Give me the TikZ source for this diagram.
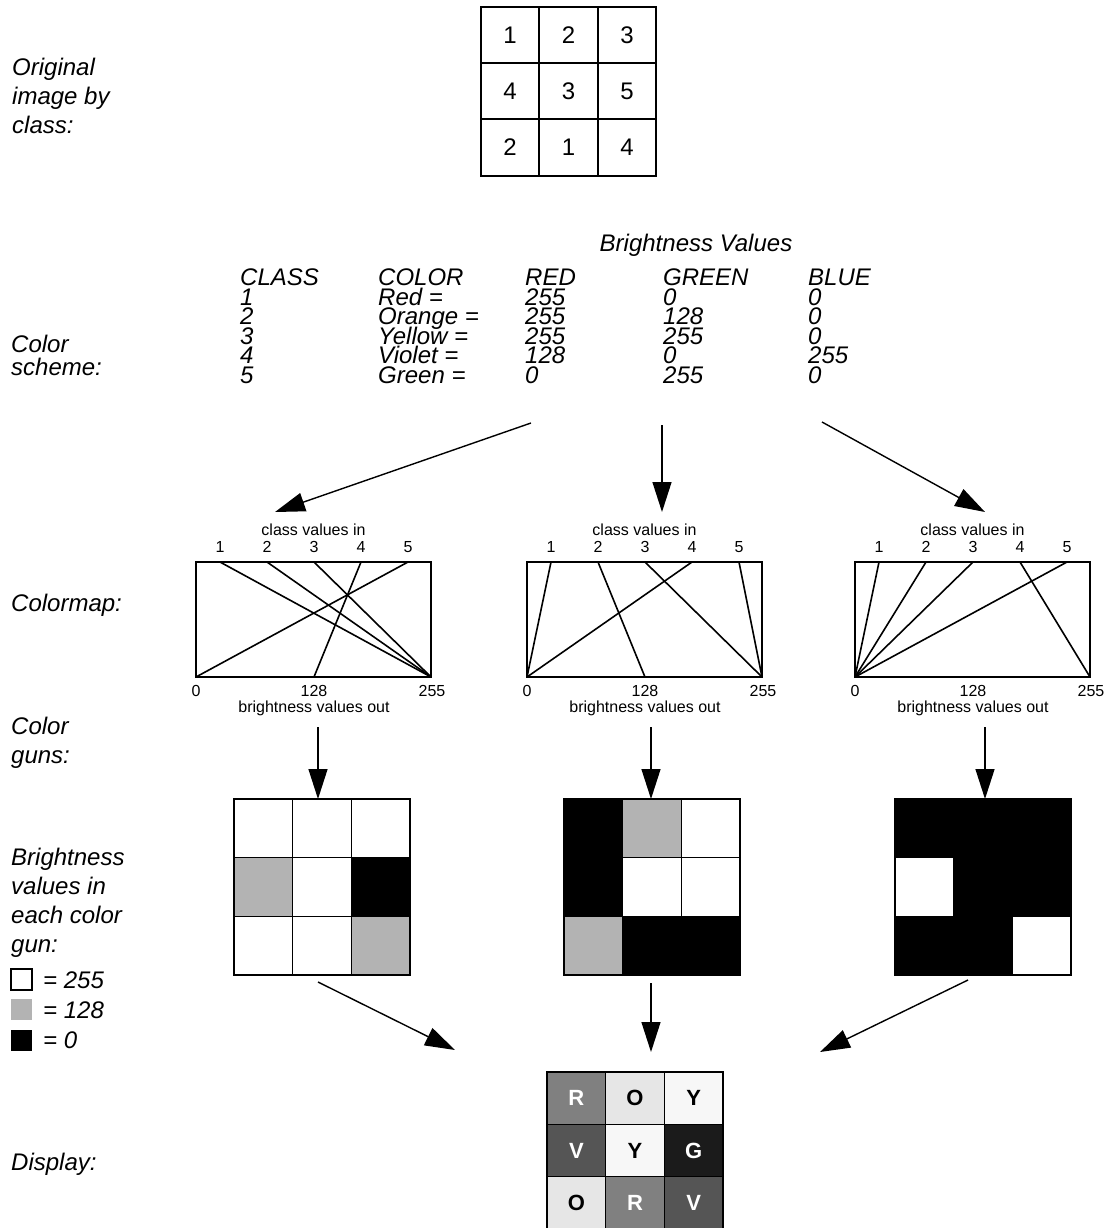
\documentclass[tikz,border=0pt]{standalone}
\usepackage{fontspec}
\setmainfont{Liberation Sans}
\usetikzlibrary{arrows.meta}
\definecolor{midgray}{HTML}{B3B3B3}
\definecolor{dR}{HTML}{808080}
\definecolor{dO}{HTML}{E6E6E6}
\definecolor{dY}{HTML}{F7F7F7}
\definecolor{dV}{HTML}{555555}
\definecolor{dG}{HTML}{1B1B1B}
\newcommand\drawcmap[3]{%
  \draw[cmbox] (#1,562) rectangle ++(235,115);
  \node[small] (#2ci) at (#1+117.5,530) {class values in};
  \foreach \k/\v in {#3} {
    \node[small] (#2k\k) at (#1+24+47*\k-47,547) {\k};
    \draw[cmline] (#1+24+47*\k-47,562) -- (#1+0.92157*\v,677);
  }
  \node[small] (#2b0) at (#1,691) {0};
  \node[small] (#2b1) at (#1+118,691) {128};
  \node[small] (#2b2) at (#1+236,691) {255};
  \node[small] (#2bo) at (#1+118,708) {brightness values out};
}
\newcommand\drawbgrid[3]{%
  \foreach \c [count=\i from 0] in {#3} {
    \pgfmathtruncatemacro\cc{mod(\i,3)}
    \pgfmathtruncatemacro\rr{\i/3}
    \node[bcell,fill=\c] (#2\i) at (#1+29.33+58.67*\cc,828.33+58.67*\rr) {};
  }
}
\begin{document}
\begin{tikzpicture}[x=1pt,y=-1pt,
  lbl/.style={anchor=base west,inner sep=0,font=\fontsize{24}{29}\selectfont\itshape},
  tbl/.style={anchor=base west,inner sep=0,font=\fontsize{24}{20}\selectfont\itshape},
  small/.style={inner sep=0,font=\fontsize{16}{18}\selectfont},
  digit/.style={inner sep=0,font=\fontsize{24}{26}\selectfont},
  cmbox/.style={line width=1.8pt},
  cmline/.style={line width=1.6pt},
  bigarrow/.style={-{Triangle[length=30pt,width=19pt]},line width=1.4pt},
  bcell/.style={draw,line width=1.3pt,minimum width=58.67pt,minimum height=58.67pt,inner sep=0,outer sep=0},
  dcell/.style={draw,line width=1.3pt,minimum width=58.67pt,minimum height=52.33pt,inner sep=0,outer sep=0,font=\fontsize{22}{24}\selectfont\bfseries},
  lbox/.style={minimum width=21pt,minimum height=21pt,inner sep=0,outer sep=0}]
\useasboundingbox (0,0) rectangle (1109,1228);

% left labels
\node[lbl] (l1a) at (12,76) {Original};
\node[lbl] (l1b) at (12,105) {image by};
\node[lbl] (l1c) at (12,134) {class:};
\node[lbl] (l2a) at (11,352) {Color};
\node[lbl] (l2b) at (11,375) {scheme:};
\node[lbl] (l3a) at (11,611) {Colormap:};
\node[lbl] (l4a) at (11,734) {Color};
\node[lbl] (l4b) at (11,763) {guns:};
\node[lbl] (l5a) at (11,865) {Brightness};
\node[lbl] (l5b) at (11,894) {values in};
\node[lbl] (l5c) at (11,923) {each color};
\node[lbl] (l5d) at (11,952) {gun:};
\node[lbl] (l6a) at (11,1170) {Display:};

% legend
\node[lbox,draw,line width=1.2pt] (lgw) at (21.5,979.5) {};
\node[lbox,fill=midgray] (lgg) at (21.5,1009) {};
\node[lbox,fill=black] (lgb) at (21.5,1040) {};
\node[lbl] (lgwt) at (43,988) {= 255};
\node[lbl] (lggt) at (43,1018) {= 128};
\node[lbl] (lgbt) at (43,1048) {= 0};

% original image grid
\draw[line width=1.8pt] (481,7) rectangle (656,176);
\draw[line width=1.8pt] (539,7) -- (539,176) (598,7) -- (598,176)
  (481,63) -- (656,63) (481,119) -- (656,119);
\node[digit] (o1) at (510,35) {1};
\node[digit] (o2) at (568.5,35) {2};
\node[digit] (o3) at (627,35) {3};
\node[digit] (o4) at (510,91) {4};
\node[digit] (o5) at (568.5,91) {3};
\node[digit] (o6) at (627,91) {5};
\node[digit] (o7) at (510,147.5) {2};
\node[digit] (o8) at (568.5,147.5) {1};
\node[digit] (o9) at (627,147.5) {4};

% colour scheme table
\node[inner sep=0,font=\fontsize{24}{26}\selectfont\itshape,anchor=base] (bv) at (696,251.5) {Brightness Values};
\foreach \r/\a/\b/\c/\d/\e [count=\n] in {
  285.5/CLASS/COLOR/RED/GREEN/BLUE,
  305/1/Red =/255/0/0,
  324.5/2/Orange =/255/128/0,
  344/3/Yellow =/255/255/0,
  363.5/4/Violet =/128/0/255,
  383/5/Green =/0/255/0} {
  \node[tbl] (t\n a) at (240,\r) {\a};
  \node[tbl] (t\n b) at (378,\r) {\b};
  \node[tbl] (t\n c) at (525,\r) {\c};
  \node[tbl] (t\n d) at (663,\r) {\d};
  \node[tbl] (t\n e) at (808,\r) {\e};
}

% arrows from table to colormaps
\coordinate (a1s) at (531,423); \coordinate (a1e) at (275,512);
\coordinate (a2s) at (662,425); \coordinate (a2e) at (662,512);
\coordinate (a3s) at (822,422); \coordinate (a3e) at (985,512);
\draw[bigarrow] (a1s) -- (a1e);
\draw[bigarrow] (a2s) -- (a2e);
\draw[bigarrow] (a3s) -- (a3e);

% colormaps
\drawcmap{196}{cr}{1/255,2/255,3/255,4/128,5/0}
\drawcmap{527}{cg}{1/0,2/128,3/255,4/0,5/255}
\drawcmap{855}{cb}{1/0,2/0,3/0,4/255,5/0}

% arrows colormap -> guns
\coordinate (b1s) at (318,727); \coordinate (b1e) at (318,799);
\coordinate (b2s) at (651,727); \coordinate (b2e) at (651,799);
\coordinate (b3s) at (985,727); \coordinate (b3e) at (985,799);
\draw[bigarrow] (b1s) -- (b1e);
\draw[bigarrow] (b2s) -- (b2e);
\draw[bigarrow] (b3s) -- (b3e);

% brightness grids
\drawbgrid{234}{gr}{white,white,white,midgray,white,black,white,white,midgray}
\drawbgrid{564}{gg}{black,midgray,white,black,white,white,midgray,black,black}
\drawbgrid{895}{gb}{black,black,black,white,black,black,black,black,white}

% arrows guns -> display
\coordinate (c1s) at (318,982); \coordinate (c1e) at (455,1050);
\coordinate (c2s) at (651,983); \coordinate (c2e) at (651,1052);
\coordinate (c3s) at (968,980); \coordinate (c3e) at (820,1052);
\draw[bigarrow] (c1s) -- (c1e);
\draw[bigarrow] (c2s) -- (c2e);
\draw[bigarrow] (c3s) -- (c3e);

% display
\node[dcell,fill=dR,text=white] (d1) at (576.33,1098.17) {R};
\node[dcell,fill=dO] (d2) at (635,1098.17) {O};
\node[dcell,fill=dY] (d3) at (693.67,1098.17) {Y};
\node[dcell,fill=dV,text=white] (d4) at (576.33,1150.5) {V};
\node[dcell,fill=dY] (d5) at (635,1150.5) {Y};
\node[dcell,fill=dG,text=white] (d6) at (693.67,1150.5) {G};
\node[dcell,fill=dO] (d7) at (576.33,1202.83) {O};
\node[dcell,fill=dR,text=white] (d8) at (635,1202.83) {R};
\node[dcell,fill=dV,text=white] (d9) at (693.67,1202.83) {V};
\end{tikzpicture}
\end{document}
